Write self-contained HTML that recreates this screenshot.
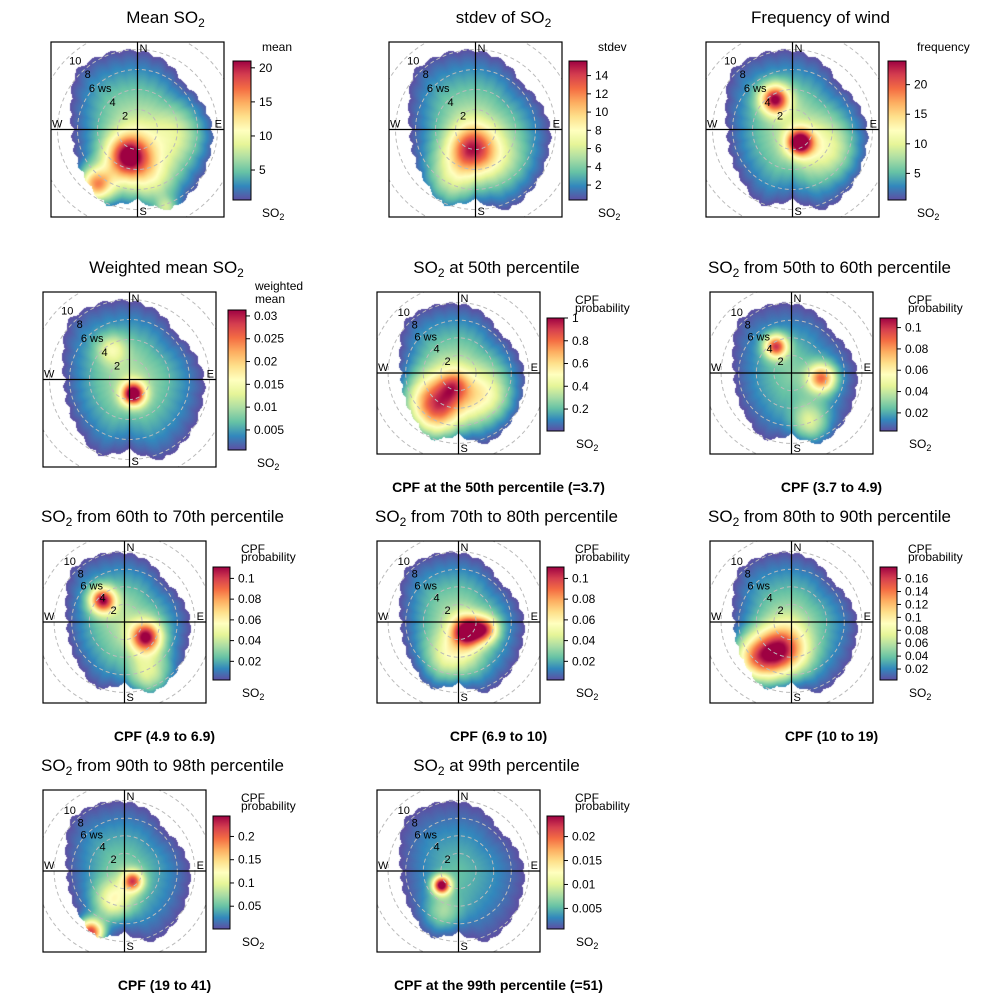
<!DOCTYPE html>
<html><head><meta charset="utf-8"><style>
body{margin:0;background:#fff;width:1000px;height:1000px;overflow:hidden;font-family:"Liberation Sans",sans-serif}
#cv{position:absolute;left:0;top:0}
#sv{position:absolute;left:0;top:0}
</style></head><body>
<canvas id="cv" width="1000" height="1000"></canvas>
<svg id="sv" width="1000" height="1000" xmlns="http://www.w3.org/2000/svg"></svg>
<script>
// Blob edge radius (ws) for 16 directions N, NNE, ... NNW
const edgeWs = [7.7,7.2,6.3,6.8,7.3,7.5,8.0,8.5,6.8,8.0,7.0,6.5,6.3,7.0,8.3,8.0];
// hotspots: [direction deg, ws, amplitude(0-1), sigma ws]
const spotsMean = [[200,2.8,0.75,1.5],[217,6.9,0.7,1.2],[170,5,0.3,2],[100,4,0.2,2],[160,8.5,0.3,0.8]];
const spotsStdev = [[190,2,0.6,1.6],[205,5.5,0.25,2],[140,4,0.15,2]];
const spotsFreq = [[330,3.5,0.8,1.0],[150,1.5,0.85,0.9],[120,4,0.25,2]];
const spotsWeighted = [[165,1.5,0.9,0.8],[330,3.5,0.25,1]];
const spots50 = [[215,4.5,0.75,2.3],[130,4,0.3,2],[200,1.5,0.3,1.2]];
const spots5060 = [[330,3.5,0.75,0.9],[100,3.5,0.65,1.1],[160,6,0.3,1.5]];
const spots6070 = [[315,3.5,0.8,1.0],[125,3,0.8,1.2],[155,6.5,0.3,1.8]];
const spots7080 = [[135,1.5,0.85,1.2],[105,3.2,0.55,1],[190,4,0.3,2]];
const spots8090 = [[200,3.5,0.75,2],[225,6,0.55,1.8]];
const spots9098 = [[209,8,0.9,1],[140,1.5,0.65,0.8],[200,3.5,0.35,1.5]];
const spots99 = [[230,2.5,0.95,0.7],[200,5,0.2,1.5]];
const baseLevels = [0.35,0.35,0.35,0.33,0.33,0.25,0.33,0.33,0.3,0.25,0.2];
const ticksMean=[5,10,15,20], ticksStdev=[2,4,6,8,10,12,14], ticksFreq=[5,10,15,20],
 ticksWeighted=["0.005","0.01","0.015","0.02","0.025","0.03"], ticks50=["0.2","0.4","0.6","0.8","1"],
 ticks5060=["0.02","0.04","0.06","0.08","0.1"], ticks6070=ticks5060, ticks7080=ticks5060,
 ticks8090=["0.02","0.04","0.06","0.08","0.1","0.12","0.14","0.16"], ticks9098=["0.05","0.1","0.15","0.2"],
 ticks99=["0.005","0.01","0.015","0.02"];
const ranges=[[0.6,21],[0.36,15.6],[0.5,24],[0.0006,0.0313],[0.007,1.0],[0.003,0.109],[0.002,0.111],[0.002,0.111],[0.003,0.178],[0.001,0.244],[0.0007,0.0243]];

const spectral=["#5E4FA2","#3288BD","#66C2A5","#ABDDA4","#E6F598","#FFFFBF","#FEE08B","#FDAE61","#F46D43","#D53E4F","#9E0142"];
function hex(c){return [parseInt(c.slice(1,3),16),parseInt(c.slice(3,5),16),parseInt(c.slice(5,7),16)];}
const spRGB=spectral.map(hex);
function col(v){v=Math.max(0,Math.min(1,v));const f=v*10,i=Math.min(9,Math.floor(f)),t=f-i;const a=spRGB[i],b=spRGB[i+1];return [a[0]+(b[0]-a[0])*t,a[1]+(b[1]-a[1])*t,a[2]+(b[2]-a[2])*t];}

const panels=[
 {t:["Mean SO","2",""],box:[51,42,173,175],sc:10,cb:[233,61,18,139],spots:spotsMean,ticks:ticksMean,cbt:["mean"],foot:"",to:28},
 {t:["stdev of SO","2",""],box:[389,42,173,175],sc:10,cb:[569,61,18,139],spots:spotsStdev,ticks:ticksStdev,cbt:["stdev"],foot:"",to:28},
 {t:["Frequency of wind","",""],box:[706,42,173,175],sc:10,cb:[888,61,18,139],spots:spotsFreq,ticks:ticksFreq,cbt:["frequency"],foot:"",to:28},
 {t:["Weighted mean SO","2",""],box:[43,292,173,175],sc:10,cb:[228,310,18,140],spots:spotsWeighted,ticks:ticksWeighted,cbt:["weighted","mean"],foot:"",to:37},
 {t:["SO","2"," at 50th percentile"],box:[377,292,163,162],sc:8.8,cb:[547,318,17,113],spots:spots50,ticks:ticks50,cbt:["CPF","probability"],foot:"CPF at the 50th percentile (=3.7)",to:38},
 {t:["SO","2"," from 50th to 60th percentile"],box:[710,292,163,162],sc:8.8,cb:[880,318,17,113],spots:spots5060,ticks:ticks5060,cbt:["CPF","probability"],foot:"CPF (3.7 to 4.9)",to:38},
 {t:["SO","2","  from 60th to 70th percentile"],box:[43,541,163,162],sc:8.8,cb:[213,567,17,113],spots:spots6070,ticks:ticks6070,cbt:["CPF","probability"],foot:"CPF (4.9 to 6.9)",to:38},
 {t:["SO","2"," from 70th to 80th percentile"],box:[377,541,163,162],sc:8.8,cb:[547,567,17,113],spots:spots7080,ticks:ticks7080,cbt:["CPF","probability"],foot:"CPF (6.9 to 10)",to:38},
 {t:["SO","2"," from 80th to 90th percentile"],box:[710,541,163,162],sc:8.8,cb:[880,567,17,113],spots:spots8090,ticks:ticks8090,cbt:["CPF","probability"],foot:"CPF (10 to 19)",to:38},
 {t:["SO","2"," from 90th to 98th percentile"],box:[43,790,163,162],sc:8.8,cb:[213,816,17,113],spots:spots9098,ticks:ticks9098,cbt:["CPF","probability"],foot:"CPF (19 to 41)",to:38},
 {t:["SO","2"," at 99th percentile"],box:[377,790,163,162],sc:8.8,cb:[547,816,17,113],spots:spots99,ticks:ticks99,cbt:["CPF","probability"],foot:"CPF at the 99th percentile (=51)",to:38}
];

const ctx=document.getElementById('cv').getContext('2d');
const sv=document.getElementById('sv');
const NS="http://www.w3.org/2000/svg";
function mk(tag,attrs,parent){const e=document.createElementNS(NS,tag);for(const k in attrs)e.setAttribute(k,attrs[k]);(parent||sv).appendChild(e);return e;}
function edgeAt(th){const f=((th%360)+360)%360/22.5,i=Math.floor(f)%16,t=f-Math.floor(f);return edgeWs[i]*(1-t)+edgeWs[(i+1)%16]*t + 0.3*Math.abs(Math.sin(th*Math.PI/180*14));}

panels.forEach((p,pi)=>{
 const [bx,by,bw,bh]=p.box, cx=bx+bw/2, cy=by+bh/2, sc=p.sc;
 const img=ctx.createImageData(bw,bh);
 const sp=p.spots.map(s=>{const a=s[0]*Math.PI/180;return [Math.sin(a)*s[1],-Math.cos(a)*s[1],s[2],s[3]];});
 for(let j=0;j<bh;j++)for(let i=0;i<bw;i++){
  const x=(bx+i+0.5-cx)/sc,y=(by+j+0.5-cy)/sc,r=Math.hypot(x,y);
  const th=Math.atan2(x,-y)*180/Math.PI;const e=edgeAt(th);
  let k=(j*bw+i)*4;
  if(r>e){img.data[k]=255;img.data[k+1]=255;img.data[k+2]=255;img.data[k+3]=255;continue;}
  let v=baseLevels[pi]*Math.max(0,1-Math.pow(r/e,1.3));
  sp.forEach(s=>{const d2=(x-s[0])**2+(y-s[1])**2;v+=s[2]*Math.exp(-d2/(2*s[3]*s[3]));});
  const c=col(v);img.data[k]=c[0];img.data[k+1]=c[1];img.data[k+2]=c[2];img.data[k+3]=255;
 }
 ctx.putImageData(img,bx,by);

 const g=mk('g',{});
 
 
 const cp=mk('clipPath',{id:'cp'+pi},g);mk('rect',{x:bx,y:by,width:bw,height:bh},cp);
 const rg=mk('g',{'clip-path':'url(#cp'+pi+')'},g);
 [2,4,6,8,10].forEach(w=>{const c=mk('circle',{cx:cx,cy:cy,r:w*sc,fill:'none',stroke:'#bbb','stroke-width':1,'stroke-dasharray':'4,3'},rg);
  
  });
 mk('line',{x1:bx,y1:cy,x2:bx+bw,y2:cy,stroke:'#000','stroke-width':1.2},g);
 mk('line',{x1:cx,y1:by,x2:cx,y2:by+bh,stroke:'#000','stroke-width':1.2},g);
 const box=mk('rect',{x:bx,y:by,width:bw,height:bh,fill:'none',stroke:'#000','stroke-width':1.2},g);
 
 
 const fs=11;
 [["N",cx+2,by+10,'start'],["S",cx+2,by+bh-2,'start'],["W",bx+1,cy-2,'start'],["E",bx+bw-2,cy-2,'end']].forEach(d=>{
  const t=mk('text',{x:d[1],y:d[2],'font-size':fs,'text-anchor':d[3],fill:'#000'},g);t.textContent=d[0];
  
  });
 [[2,"2"],[4,"4"],[6,"6 ws"],[8,"8"],[10,"10"]].forEach(d=>{
  const a=-42*Math.PI/180, rr=d[0]*sc*0.93;
  const t=mk('text',{x:cx+Math.sin(a)*rr,y:cy-Math.cos(a)*rr+4,'font-size':11,'text-anchor':'middle',fill:'#000'},g);t.textContent=d[1];
  
  });
 const tt=mk('text',{x:cx+p.to,y:by-19,'font-size':17,'text-anchor':'middle',fill:'#000'},g);
 
 
 const s1=mk('tspan',{},tt);s1.textContent=p.t[0];
 if(p.t[1]){const s2=mk('tspan',{'font-size':12,dy:4},tt);s2.textContent=p.t[1];const s3=mk('tspan',{dy:-4},tt);s3.textContent=p.t[2];}
 const [kx,ky,kw,kh]=p.cb;
 const gid='gr'+pi;const lg=mk('linearGradient',{id:gid,x1:0,y1:1,x2:0,y2:0},g);
 spectral.forEach((c,i)=>mk('stop',{offset:(i/10),'stop-color':c},lg));
 const cbr=mk('rect',{x:kx,y:ky,width:kw,height:kh,fill:'url(#'+gid+')',stroke:'#000','stroke-width':1},g);
 
 
 const [lo,hi]=ranges[pi];
 p.ticks.forEach(tv=>{const v=parseFloat(tv);const yy=ky+kh-(v-lo)/(hi-lo)*kh;
  mk('line',{x1:kx+kw,y1:yy,x2:kx+kw+4,y2:yy,stroke:'#000'},g);
  const t=mk('text',{x:kx+kw+8,y:yy+4,'font-size':12,fill:'#000'},g);t.textContent=tv;
  
  });
 if(p.cbt.length===1){const t=mk('text',{x:kx+29,y:ky-10,'font-size':12},g);t.textContent=p.cbt[0];}
 else if(p.cbt[0]==="CPF"){const t=mk('text',{x:kx+28,y:ky-14,'font-size':12},g);t.textContent="CPF";const t2=mk('text',{x:kx+28,y:ky-6,'font-size':12},g);t2.textContent="probability";}
 else {const t=mk('text',{x:kx+27,y:ky-20,'font-size':12},g);t.textContent=p.cbt[0];const t2=mk('text',{x:kx+27,y:ky-7,'font-size':12},g);t2.textContent=p.cbt[1];}
 const so=mk('text',{x:kx+29,y:ky+kh+17,'font-size':12},g);
 
 
 const a1=mk('tspan',{},so);a1.textContent="SO";const a2=mk('tspan',{'font-size':9,dy:3},so);a2.textContent="2";
 if(p.foot){const f=mk('text',{x:cx+40,y:by+bh+38,'font-size':14,'font-weight':'bold','text-anchor':'middle'},g);f.textContent=p.foot;
  
  }
});
</script>
</body></html>
